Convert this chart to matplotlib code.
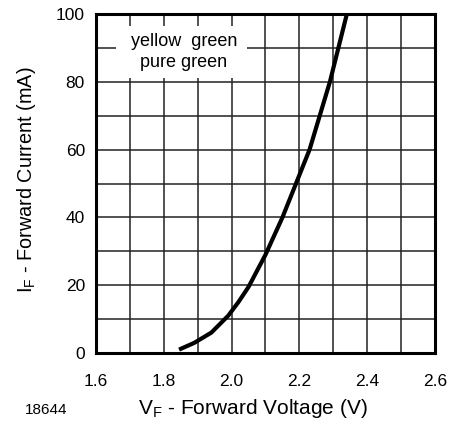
import matplotlib
matplotlib.use("Agg")
import matplotlib.pyplot as plt
from matplotlib.patches import Rectangle

plt.rcParams['font.family'] = ['Liberation Sans', 'DejaVu Sans']

# Data
vf = [1.845, 1.89, 1.94, 1.99, 2.02, 2.05, 2.10, 2.15, 2.19, 2.23, 2.26, 2.29, 2.315, 2.34]
if_ma = [1, 3, 6, 11, 15, 19.5, 29, 40, 50, 60, 70, 80, 90, 100]
xticks = [1.6, 1.8, 2.0, 2.2, 2.4, 2.6]
xtick_labels = ["1.6", "1.8", "2.0", "2.2", "2.4", "2.6"]
yticks = [0, 20, 40, 60, 80, 100]
ytick_labels = ["0", "20", "40", "60", "80", "100"]
legend_lines = ["yellow  green", "pure green"]

fig = plt.figure(figsize=(4.52, 4.24), dpi=100)
ax = fig.add_axes([96/452, 71/424, 339/452, 339/424])

ax.set_xlim(1.6, 2.6)
ax.set_ylim(0, 100)

# grid every 0.1 V / 10 mA
for i in range(1, 10):
    ax.axvline(1.6 + 0.1 * i, color='#222222', lw=1.1, zorder=1)
    ax.axhline(10 * i, color='#222222', lw=1.1, zorder=1)

# legend box covering grid
ax.add_patch(Rectangle((1.659, 81.2), 2.045 - 1.659, 96.5 - 81.2,
                       facecolor='white', edgecolor='none', zorder=2))
ax.text(1.86, 92.0, legend_lines[0], ha='center', va='center', fontsize=13, zorder=3)
ax.text(1.858, 85.6, legend_lines[1], ha='center', va='center', fontsize=13, zorder=3)

ax.plot(vf, if_ma, color='black', lw=3.0, solid_capstyle='butt',
        solid_joinstyle='round', zorder=4)

ax.set_xticks(xticks)
ax.set_xticklabels(xtick_labels)
ax.set_yticks(yticks)
ax.set_yticklabels(ytick_labels)
ax.tick_params(axis='both', length=0, labelsize=12.5)
ax.tick_params(axis='x', pad=15)
ax.tick_params(axis='y', pad=8)

for s in ax.spines.values():
    s.set_linewidth(2.2)
    s.set_color('black')

fig.text(253/452, 1 - 409/424, r"V$_\mathregular{F}$ - Forward Voltage (V)",
         ha='center', va='center', fontsize=15)
fig.text(27/452, 1 - 180/424, r"I$_\mathregular{F}$ - Forward Current (mA)",
         ha='center', va='center', fontsize=14.3, rotation=90)
fig.text(46/452, 1 - 410/424, "18644", ha='center', va='center', fontsize=11)

fig.savefig("out.png", dpi=100)
